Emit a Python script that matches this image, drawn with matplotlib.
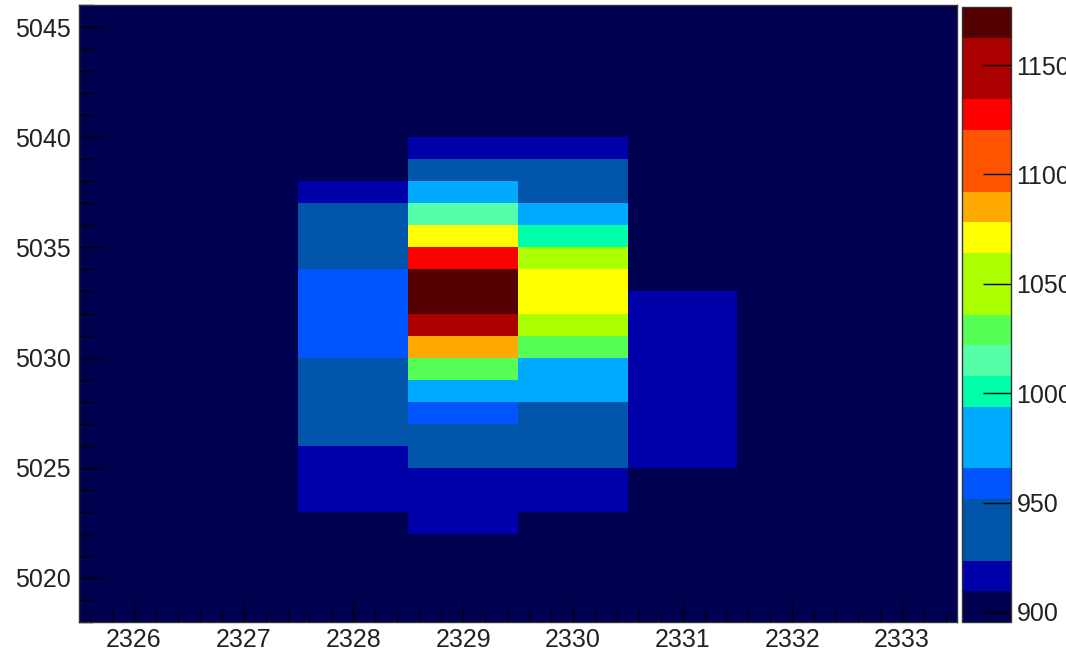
import numpy as np
import matplotlib
matplotlib.use("Agg")
import matplotlib.pyplot as plt
from matplotlib.colors import ListedColormap, BoundaryNorm
from matplotlib.ticker import MultipleLocator

plt.rcParams['font.family'] = ['Liberation Sans', 'DejaVu Sans']

# bin centres of the 2D histogram
x_bins = [2326, 2327, 2328, 2329, 2330, 2331, 2332, 2333]
y_bins = [5018.5 + i for i in range(28)]

# bin contents, one row per y bin (bottom row first), columns follow x_bins
counts = [
    [903.1, 900.4, 898.7, 904.2, 901.6, 899.3, 902.8, 897.9],   # 5018
    [901.2, 904.6, 899.8, 906.1, 902.3, 898.5, 900.9, 903.4],   # 5019
    [899.5, 902.7, 905.3, 907.8, 903.9, 901.4, 897.6, 900.2],   # 5020
    [902.4, 898.1, 906.9, 908.3, 905.7, 900.6, 899.2, 901.8],   # 5021
    [900.8, 903.5, 907.4, 915.6, 907.1, 902.9, 898.3, 896.8],   # 5022
    [897.3, 901.9, 917.2, 921.4, 918.8, 906.5, 900.1, 899.6],   # 5023
    [899.9, 904.1, 919.6, 922.8, 920.3, 907.6, 902.5, 898.4],   # 5024
    [901.5, 899.7, 921.1, 934.7, 931.2, 916.3, 903.2, 900.7],   # 5025
    [898.6, 902.2, 929.5, 942.1, 938.4, 918.5, 901.3, 897.1],   # 5026
    [903.7, 900.3, 933.8, 958.6, 945.9, 919.8, 899.5, 902.1],   # 5027
    [900.2, 905.4, 936.2, 979.4, 972.6, 920.4, 904.7, 899.8],   # 5028
    [902.9, 898.8, 939.7, 1028.3, 984.1, 921.7, 900.8, 901.1],  # 5029
    [899.1, 903.3, 955.4, 1085.6, 1031.5, 919.2, 902.6, 898.2],  # 5030
    [904.4, 901.7, 960.8, 1147.9, 1049.3, 917.9, 899.4, 903.6],  # 5031
    [900.5, 899.1, 962.3, 1176.5, 1068.7, 915.4, 901.9, 900.3],  # 5032
    [902.1, 904.8, 958.9, 1169.2, 1072.4, 906.8, 898.9, 895.4],  # 5033
    [898.3, 900.6, 944.6, 1128.7, 1052.8, 903.1, 902.4, 901.5],  # 5034
    [903.9, 902.5, 941.3, 1071.9, 1001.6, 905.2, 899.7, 899.0],  # 5035
    [901.0, 897.8, 937.5, 1014.8, 981.7, 901.8, 903.8, 902.7],  # 5036
    [899.4, 903.0, 918.1, 976.3, 940.2, 904.9, 900.5, 898.6],   # 5037
    [902.6, 899.9, 907.9, 943.8, 936.9, 900.2, 901.2, 903.9],   # 5038
    [900.7, 904.3, 905.1, 919.4, 916.7, 902.7, 898.1, 900.9],   # 5039
    [897.8, 901.4, 902.6, 906.7, 907.3, 899.6, 904.1, 902.2],   # 5040
    [903.2, 899.2, 900.9, 904.5, 901.4, 903.5, 900.3, 899.4],   # 5041
    [900.1, 902.8, 904.2, 901.7, 899.8, 900.8, 902.9, 901.6],   # 5042
    [901.9, 898.5, 899.3, 903.3, 904.6, 897.7, 899.8, 903.0],   # 5043
    [899.0, 903.7, 902.0, 900.1, 902.5, 901.9, 903.4, 900.5],   # 5044
    [902.3, 900.9, 898.4, 902.9, 900.7, 904.3, 901.0, 898.7],   # 5045
]

# 20 contour levels, colours from the bottom level up
level_colors = [
    "#000050", "#0000AA", "#0055AA", "#0055AA", "#0055FF",
    "#00AAFF", "#00AAFF", "#00FFAA", "#55FFAA", "#55FF55",
    "#AAFF00", "#AAFF00", "#FFFF00", "#FFAA00", "#FF5500",
    "#FF5500", "#FF0000", "#AA0000", "#AA0000", "#550000",
]
z_ticks = [900, 950, 1000, 1050, 1100, 1150]

z = np.array(counts)
xc = np.array(x_bins, dtype=float)
yc = np.array(y_bins)
x_edges = np.append(xc - 0.5, xc[-1] + 0.5)
y_edges = np.append(yc - 0.5, yc[-1] + 0.5)

levels = np.linspace(z.min(), z.max(), len(level_colors) + 1)
cmap = ListedColormap(level_colors)
norm = BoundaryNorm(levels, cmap.N)

fig = plt.figure(figsize=(10.66, 6.52), dpi=100)
ax = fig.add_axes([0.0741, 0.046, 0.8236, 0.9463])
cax = fig.add_axes([0.9024, 0.046, 0.046, 0.943])

mesh = ax.pcolormesh(x_edges, y_edges, z, cmap=cmap, norm=norm)
ax.set_xlim(x_edges[0], x_edges[-1])
ax.set_ylim(5018, 5046)

ax.xaxis.set_major_locator(MultipleLocator(1))
ax.xaxis.set_minor_locator(MultipleLocator(0.2))
ax.yaxis.set_major_locator(MultipleLocator(5))
ax.yaxis.set_minor_locator(MultipleLocator(1))
ax.tick_params(axis='x', which='major', direction='in', length=14, width=1,
               labelsize=18, pad=4, colors='black', labelcolor='#222222')
ax.tick_params(axis='x', which='minor', direction='in', length=7, width=1, colors='black')
ax.tick_params(axis='y', which='major', direction='in', length=20, width=1,
               labelsize=18, pad=6, colors='black', labelcolor='#222222')
ax.tick_params(axis='y', which='minor', direction='in', length=10, width=1, colors='black')
for sp in ax.spines.values():
    sp.set_linewidth(1.0)
    sp.set_color('#333333')

cb = fig.colorbar(mesh, cax=cax, boundaries=levels, ticks=z_ticks)
cb.outline.set_linewidth(1.0)
cb.outline.set_edgecolor('#333333')
cax.yaxis.set_ticks_position('right')
cax.tick_params(which='major', direction='in', length=20, width=1, labelsize=18,
                pad=4, colors='black', labelcolor='#222222')
cax.minorticks_off()

fig.savefig("out.png", dpi=100)
